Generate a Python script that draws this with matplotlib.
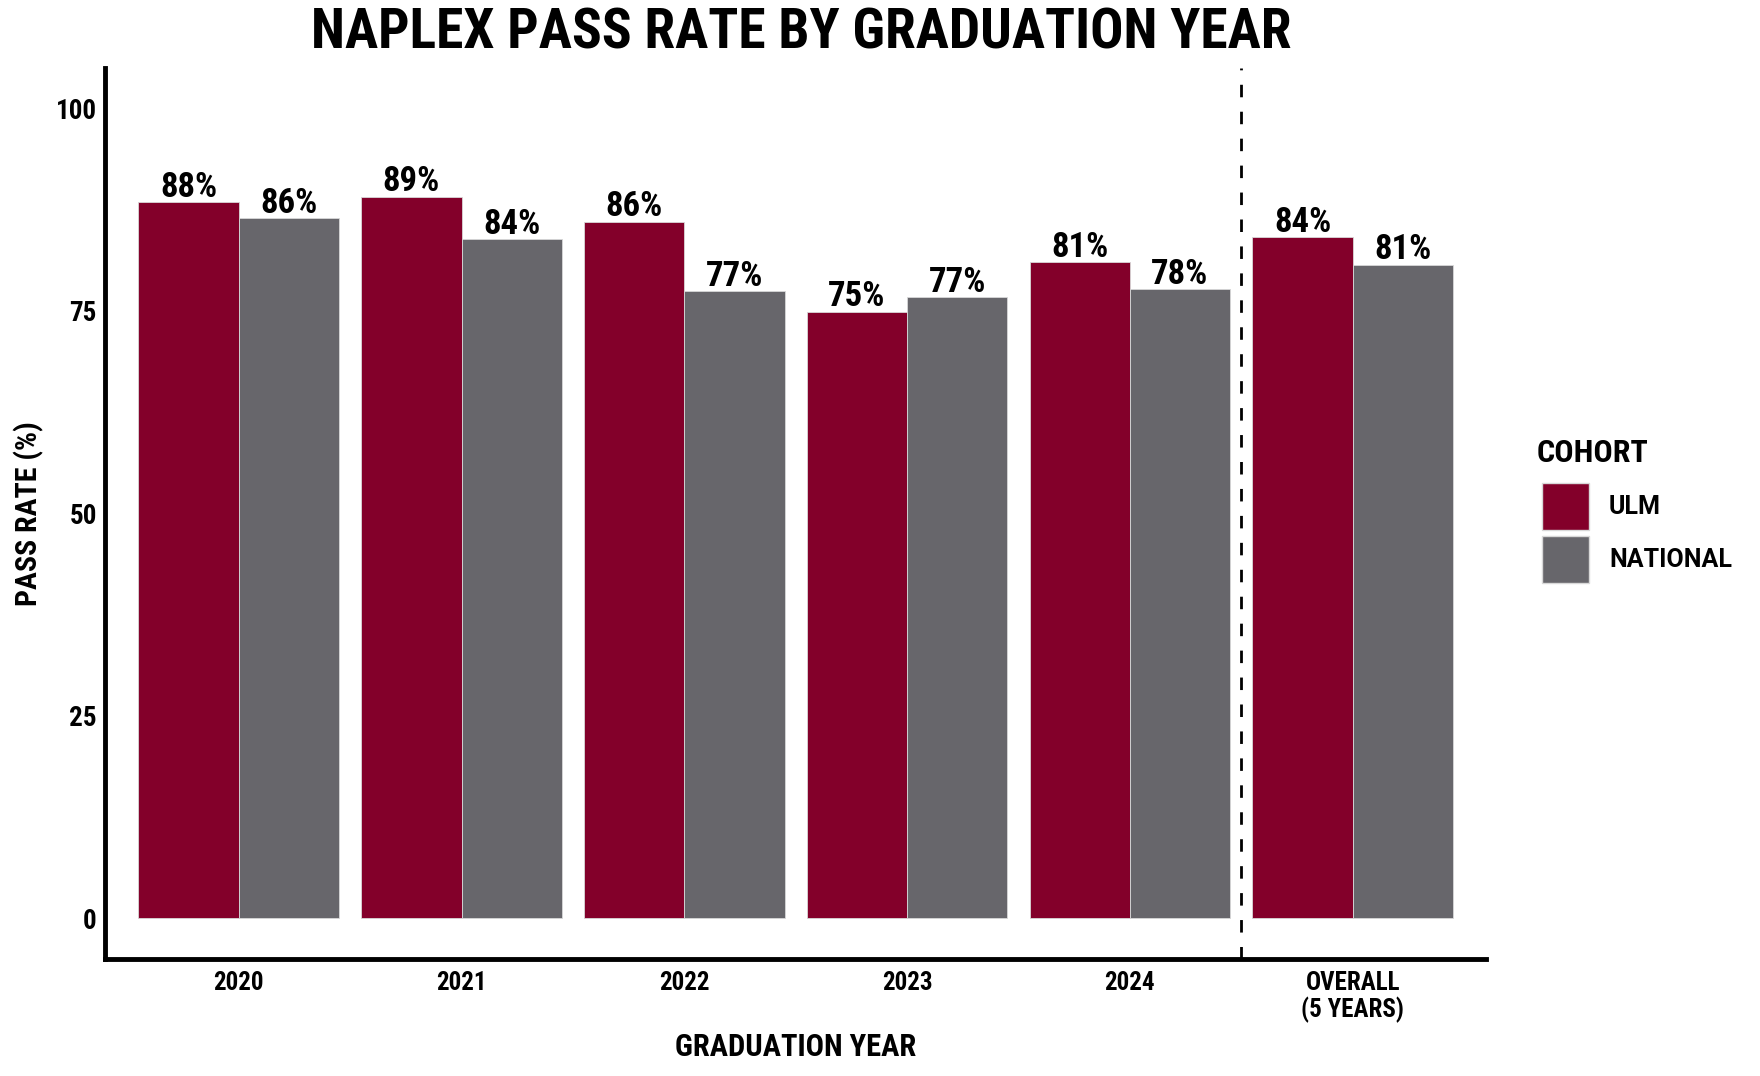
import matplotlib
matplotlib.use("Agg")
from matplotlib import pyplot as plt
from matplotlib import font_manager
from matplotlib.patches import Patch
import numpy as np

groups = ["2020", "2021", "2022", "2023", "2024", "OVERALL\n(5 YEARS)"]
ulm = [88.4, 89.1, 86.0, 74.9, 81.0, 84.1]
national = [86.4, 83.8, 77.4, 76.7, 77.7, 80.7]
yticks = [0, 25, 50, 75, 100]

maroon = "#83002A"
grey = "#67666B"

# pick a condensed bold face for the headline-style text
avail = {(f.name, f.weight) for f in font_manager.fontManager.ttflist}
def pick(prefs):
    for p in prefs:
        if (p, 700) in avail:
            return p
    return "DejaVu Sans"

cond = pick(["Roboto Condensed", "Archivo Narrow", "Barlow Condensed",
             "Liberation Sans Narrow", "Pragati Narrow"])
reg = pick(["Roboto", "Liberation Sans", "DejaVu Sans"])
plt.rcParams["font.family"] = [cond, "DejaVu Sans"]
plt.rcParams["font.weight"] = "bold"

fig = plt.figure(figsize=(17.6, 10.76), dpi=100)
ax = fig.add_axes([0.0597, 0.109, 0.7848, 0.828])

x = np.arange(len(groups))
w = 0.45
b1 = ax.bar(x - w / 2, ulm, w, color=maroon, edgecolor="#d8d8d8", linewidth=0.6)
b2 = ax.bar(x + w / 2, national, w, color=grey, edgecolor="#d8d8d8", linewidth=0.6)

for bars, vals in [(b1, ulm), (b2, national)]:
    for r, v in zip(bars, vals):
        ax.text(r.get_x() + r.get_width() / 2, v - 0.2, f"{round(v)}%",
                ha="center", va="bottom", fontsize=25, fontweight="bold")

ax.axvline(4.5, color="black", linestyle=(0, (4.5, 5.2)), linewidth=2)

ax.set_xlim(-0.6, 5.6)
ax.set_ylim(-5, 105)
ax.set_xticks(x)
ax.set_xticklabels(groups, fontsize=18, fontweight="bold", linespacing=1.05)
ax.set_yticks(yticks)
ax.set_yticklabels([str(t) for t in yticks], fontsize=19.5, fontweight="bold")
ax.tick_params(axis="both", length=0)
ax.tick_params(axis="x", pad=9)
ax.tick_params(axis="y", pad=6)

for s in ["top", "right"]:
    ax.spines[s].set_visible(False)
for s in ["left", "bottom"]:
    ax.spines[s].set_linewidth(3.5)

ax.set_xlabel("GRADUATION YEAR", fontsize=22, fontweight="bold")
ax.xaxis.set_label_coords(0.5, -0.082)
ax.set_ylabel("PASS RATE (%)", fontsize=21.5, fontweight="bold")
ax.yaxis.set_label_coords(-0.044, 0.5)

fig.suptitle("NAPLEX PASS RATE BY GRADUATION YEAR", x=0.455, y=0.993,
             fontsize=40, fontweight="bold", va="top")

fig.text(0.873, 0.571, "COHORT", fontsize=23, fontweight="bold", va="baseline")

handles = [Patch(facecolor=maroon, edgecolor="#d8d8d8"),
           Patch(facecolor=grey, edgecolor="#d8d8d8")]
leg = fig.legend(handles, ["ULM", "NATIONAL"],
                 loc="upper left", bbox_to_anchor=(0.876, 0.5514),
                 frameon=False, borderpad=0, borderaxespad=0, fontsize=18,
                 handlelength=1.89, handleheight=2.53, handletextpad=0.8,
                 labelspacing=0.23)
for t in leg.get_texts():
    t.set_fontweight("bold")
    t.set_family([reg, "DejaVu Sans"])

fig.savefig("out.png", dpi=100, facecolor="white")
